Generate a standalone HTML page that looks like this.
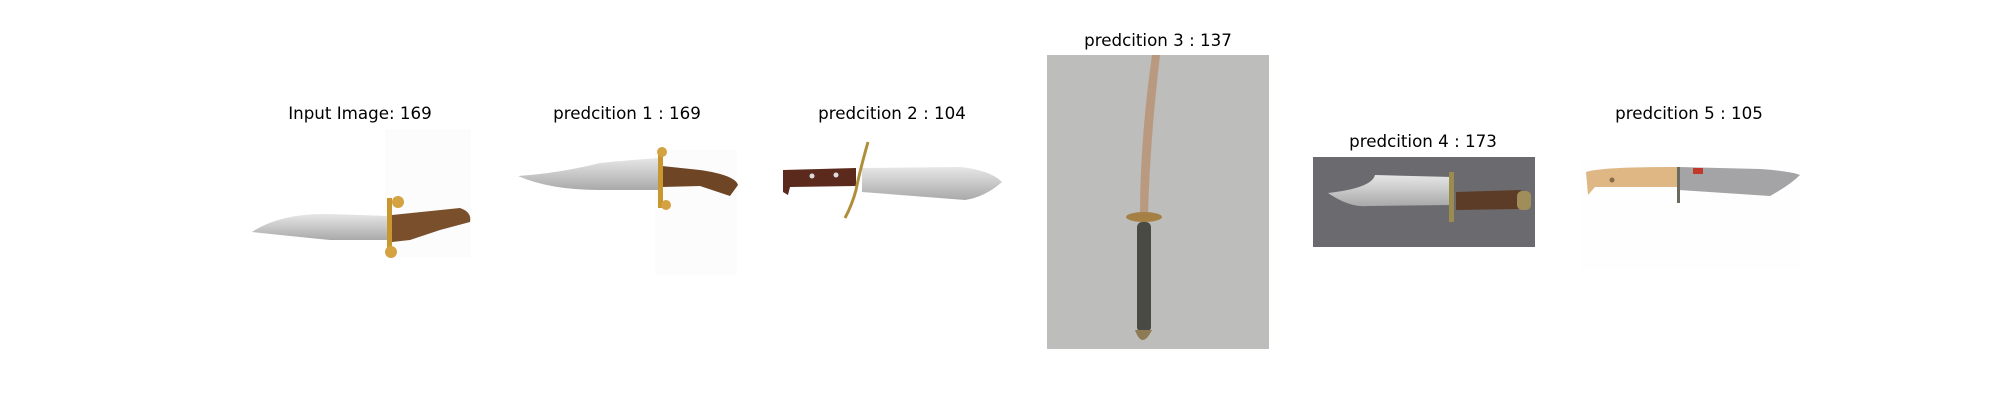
<!DOCTYPE html>
<html><head><meta charset="utf-8"><style>
body{margin:0;width:2000px;height:400px;background:#fff;overflow:hidden;position:relative;font-family:"DejaVu Sans","Liberation Sans",sans-serif}
.t{position:absolute;font-size:16.7px;color:#000;transform:translateX(-50%);white-space:nowrap;line-height:20px}
svg{position:absolute;left:0;top:0}
</style></head><body>
<div class="t" style="left:360px;top:103px">Input Image: 169</div>
<div class="t" style="left:627px;top:103px">predcition 1 : 169</div>
<div class="t" style="left:892px;top:103px">predcition 2 : 104</div>
<div class="t" style="left:1158px;top:30px">predcition 3 : 137</div>
<div class="t" style="left:1423px;top:131px">predcition 4 : 173</div>
<div class="t" style="left:1689px;top:103px">predcition 5 : 105</div>
<svg width="2000" height="400">
<defs>
<linearGradient id="bl" x1="0" y1="0" x2="0" y2="1"><stop offset="0" stop-color="#e6e6e6"/><stop offset="0.5" stop-color="#c8c8c8"/><stop offset="1" stop-color="#a9a9a9"/></linearGradient>
</defs>
<g>
<rect x="385" y="129" width="86" height="128" fill="#fcfcfc"/>
<path d="M252 232 Q280 213 330 214 L390 216 L390 240 L330 240 Q290 236 252 232Z" fill="url(#bl)"/>
<path d="M392 215 L460 208 Q472 212 470 222 L440 230 L410 240 L392 242Z" fill="#7a4f2c"/>
<rect x="387" y="198" width="5" height="58" fill="#c8972f"/>
<circle cx="398" cy="202" r="6" fill="#d4a240"/><circle cx="391" cy="252" r="6" fill="#d4a240"/>
</g>
<g>
<rect x="655" y="150" width="82" height="125" fill="#fcfcfc"/>
<path d="M518 176 Q560 173 600 163 Q630 160 660 158 L660 190 L600 190 Q550 190 518 176Z" fill="url(#bl)"/>
<path d="M662 166 L700 170 Q735 175 738 185 L730 196 L700 186 L662 187Z" fill="#6e4525"/>
<rect x="658" y="150" width="5" height="58" fill="#c8972f"/>
<circle cx="662" cy="152" r="5" fill="#d4a240"/><circle cx="666" cy="205" r="5" fill="#d4a240"/>
</g>
<g>
<path d="M783 170 L856 168 L856 186 L790 187 L788 195 L783 192Z" fill="#5b2a1d"/>
<circle cx="812" cy="176" r="2.5" fill="#ddd"/><circle cx="836" cy="175" r="2.5" fill="#ddd"/>
<path d="M862 168 L960 167 Q990 170 1002 182 Q985 197 965 200 L862 192Z" fill="url(#bl)"/>
<path d="M868 142 Q860 170 856 190 Q852 205 845 218" stroke="#b08f3c" stroke-width="3" fill="none"/>
</g>
<g>
<rect x="1047" y="55" width="222" height="294" fill="#b7b7b5"/>
<rect x="1047" y="55" width="222" height="294" fill="#c4c4c2" opacity="0.5"/>
<path d="M1152 55 Q1140 140 1140 215 L1148 215 Q1150 140 1160 55Z" fill="#b99a80"/>
<ellipse cx="1144" cy="217" rx="18" ry="5" fill="#a67f44"/>
<rect x="1137" y="222" width="14" height="110" rx="5" fill="#4a4a44"/>
<path d="M1135 330 Q1142 350 1152 330Z" fill="#8e7b55"/>
</g>
<g>
<rect x="1313" y="157" width="222" height="90" fill="#6b6b6f"/>
<path d="M1328 193 Q1350 208 1368 206 L1452 205 L1452 177 L1375 175 Q1372 188 1328 193Z" fill="url(#bl)"/>
<rect x="1449" y="172" width="5" height="50" fill="#9b8b4f"/>
<path d="M1456 192 L1520 190 L1530 194 L1530 206 L1520 209 L1456 210Z" fill="#5c3b27"/>
<rect x="1517" y="191" width="14" height="19" rx="5" fill="#a08e5a"/>
</g>
<g>
<rect x="1581" y="160" width="220" height="110" fill="#fefefe"/>
<path d="M1586 172 Q1600 167 1670 167 L1677 167 L1677 187 L1595 187 L1588 195Z" fill="#dfb785"/>
<circle cx="1612" cy="180" r="2.5" fill="#8a6b47"/>
<path d="M1679 167 L1760 169 Q1790 171 1800 175 Q1790 185 1770 196 L1679 190Z" fill="#a4a3a5"/>
<rect x="1693" y="168" width="10" height="6" fill="#c0392b"/>
<rect x="1677" y="167" width="3" height="36" fill="#6a6a60"/>
</g>
</svg>
</body></html>
